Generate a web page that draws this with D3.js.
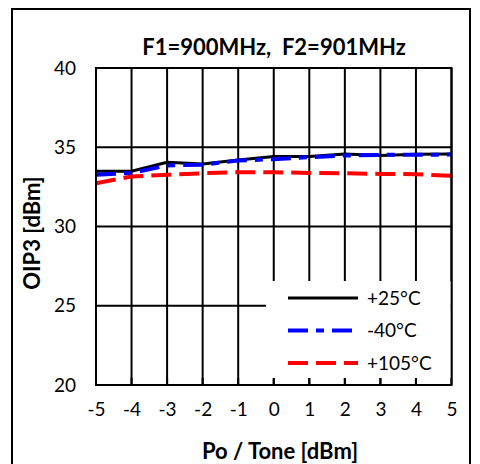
<!DOCTYPE html>
<html>
<head>
<meta charset="utf-8">
<script src="https://cdn.jsdelivr.net/npm/d3@7"></script>
<style>
    body { margin: 0; background: #fff; }
    svg { display: block; font-family: Lato, "Open Sans", sans-serif; }
</style>
</head>
<body>
<svg id="chart" width="480" height="464"></svg>
<script>
'use strict';

const xValues = [-5, -4, -3, -2, -1, 0, 1, 2, 3, 4, 5];
const plus25 = [33.48, 33.49, 34.05, 33.95, 34.2, 34.42, 34.41, 34.58, 34.48, 34.56, 34.58];
const minus40 = [33.26, 33.38, 33.85, 33.9, 34.16, 34.25, 34.37, 34.48, 34.52, 34.52, 34.54];
const plus105 = [32.73, 33.15, 33.26, 33.36, 33.42, 33.42, 33.38, 33.36, 33.32, 33.3, 33.2];
const yTicks = [20, 25, 30, 35, 40];
const seriesNames = ['+25°C', '-40°C', '+105°C'];

const LEFT = 96;
const RIGHT = 451.5;
const TOP = 68;
const BOTTOM = 385;

const svg = d3.select('#chart');

// outer frame of the chart area
svg.append('rect')
    .attr('x', 12).attr('y', 9)
    .attr('width', 458).attr('height', 470)
    .attr('fill', 'none')
    .attr('stroke', '#000')
    .attr('stroke-width', 2);

const x = d3.scaleLinear().domain([-5, 5]).range([LEFT, RIGHT]);
const y = d3.scaleLinear().domain([20, 40]).range([BOTTOM, TOP]);

// grid
svg.append('g')
    .selectAll('line')
    .data(xValues)
    .enter()
    .append('line')
    .attr('x1', d => x(d)).attr('x2', d => x(d))
    .attr('y1', TOP).attr('y2', BOTTOM)
    .attr('stroke', '#000')
    .attr('stroke-width', 2);

svg.append('g')
    .selectAll('line')
    .data(yTicks)
    .enter()
    .append('line')
    .attr('x1', LEFT).attr('x2', RIGHT)
    .attr('y1', d => y(d)).attr('y2', d => y(d))
    .attr('stroke', '#000')
    .attr('stroke-width', 2);

// tick labels (plain hyphen for negatives)
const yAxis = d3.axisLeft(y).tickValues(yTicks).tickSize(0).tickPadding(20)
    .tickFormat(d => String(d));
const gY = svg.append('g')
    .attr('transform', 'translate(' + LEFT + ',0)')
    .call(yAxis);

const xAxis = d3.axisBottom(x).tickValues(xValues).tickSize(0).tickPadding(18)
    .tickFormat(d => String(d));
const gX = svg.append('g')
    .attr('transform', 'translate(0,' + BOTTOM + ')')
    .call(xAxis);

[gX, gY].forEach(g => {
    g.select('.domain').remove();
    g.selectAll('.tick text')
        .attr('fill', '#000')
        .style('font-family', 'Lato, "Open Sans", sans-serif')
        .style('font-size', '19px');
});

// series
const series = [
    {name: seriesNames[0], values: plus25, color: '#000', width: 3, dash: null},
    {name: seriesNames[1], values: minus40, color: '#0000ff', width: 4, dash: '20,8,8,8'},
    {name: seriesNames[2], values: plus105, color: '#ff0000', width: 4, dash: '20,8'}
];

const line = d3.line()
    .x((d, i) => x(xValues[i]))
    .y(d => y(d));

svg.append('g')
    .selectAll('path')
    .data(series)
    .enter()
    .append('path')
    .attr('d', d => line(d.values))
    .attr('fill', 'none')
    .attr('stroke', d => d.color)
    .attr('stroke-width', d => d.width)
    .attr('stroke-dasharray', d => d.dash);

// plot border
svg.append('rect')
    .attr('x', LEFT).attr('y', TOP)
    .attr('width', RIGHT - LEFT).attr('height', BOTTOM - TOP)
    .attr('fill', 'none')
    .attr('stroke', '#000')
    .attr('stroke-width', 2);

// legend box covers the grid
const legend = svg.append('g');
legend.append('rect')
    .attr('x', 266).attr('y', 281)
    .attr('width', RIGHT - 266 - 1).attr('height', 97)
    .attr('fill', '#fff');

// small inner ticks at the bottom axis
svg.append('g')
    .selectAll('line')
    .data(xValues.slice(1, -1))
    .enter()
    .append('line')
    .attr('x1', d => x(d)).attr('x2', d => x(d))
    .attr('y1', BOTTOM - 7).attr('y2', BOTTOM)
    .attr('stroke', '#000')
    .attr('stroke-width', 2);

const entries = legend.selectAll('.entry')
    .data(series)
    .enter()
    .append('g')
    .attr('class', 'entry')
    .attr('transform', (d, i) => 'translate(0,' + (298 + i * 32.5) + ')');

entries.append('line')
    .attr('x1', 288).attr('x2', 358)
    .attr('stroke', d => d.color)
    .attr('stroke-width', d => d.width)
    .attr('stroke-dasharray', d => d.dash);

entries.append('text')
    .attr('x', 367)
    .attr('dy', '0.35em')
    .style('font-size', '19px')
    .text(d => d.name);

// titles
svg.append('text')
    .attr('x', 274).attr('y', 55)
    .attr('text-anchor', 'middle')
    .style('font-size', '22px')
    .style('font-weight', 'bold')
    .style('white-space', 'pre')
    .text('F1=900MHz,  F2=901MHz');

svg.append('text')
    .attr('x', 280).attr('y', 459)
    .attr('text-anchor', 'middle')
    .style('font-size', '22px')
    .style('font-weight', 'bold')
    .text('Po / Tone [dBm]');

svg.append('text')
    .attr('transform', 'translate(40,233) rotate(-90)')
    .attr('text-anchor', 'middle')
    .style('font-size', '22px')
    .style('font-weight', 'bold')
    .text('OIP3 [dBm]');
</script>
</body>
</html>
